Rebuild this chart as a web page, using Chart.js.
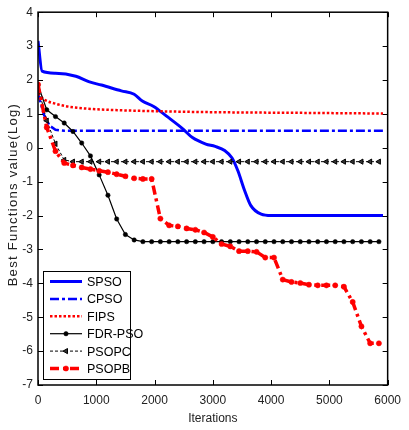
<!DOCTYPE html>
<html><head><meta charset="utf-8">
<script src="https://cdn.jsdelivr.net/npm/chart.js@4.4.0/dist/chart.umd.min.js"></script>
<style>html,body{margin:0;padding:0;background:#fff;}</style>
</head><body>
<canvas id="c" width="409" height="430"></canvas>
<script>
// ---------- data ----------
const seriesNames = ['SPSO', 'CPSO', 'FIPS', 'FDR-PSO', 'PSOPC', 'PSOPB'];
const xTickValues = [0, 1000, 2000, 3000, 4000, 5000, 6000];
const yTickValues = [-7, -6, -5, -4, -3, -2, -1, 0, 1, 2, 3, 4];

const spsoIter = [0, 70, 300, 650, 870, 1090, 1430, 1650, 1790, 1985, 2200, 2490, 2650, 2880, 3040, 3210, 3330, 3430, 3545, 3650, 3830, 4000, 5920];
const spsoVal  = [3.15, 2.26, 2.2, 2.11, 1.95, 1.85, 1.68, 1.58, 1.38, 1.22, 0.94, 0.55, 0.3, 0.11, 0.04, -0.09, -0.3, -0.68, -1.26, -1.7, -1.96, -2.0, -2.0];

const cpsoIter = [0, 100, 200, 300, 450, 5920];
const cpsoVal  = [1.6, 0.98, 0.65, 0.53, 0.5, 0.5];

const fipsIter = [0, 100, 300, 500, 800, 1200, 2000, 3000, 4500, 5920];
const fipsVal  = [1.6, 1.43, 1.3, 1.22, 1.16, 1.12, 1.08, 1.05, 1.03, 1.01];

const markerIter = [0, 150, 300, 450, 600, 750, 900, 1050, 1200, 1350, 1500, 1650, 1800, 1950, 2100, 2250, 2400, 2550, 2700, 2850, 3000, 3150, 3300, 3450, 3600, 3750, 3900, 4050, 4200, 4350, 4500, 4650, 4800, 4950, 5100, 5250, 5400, 5550, 5700, 5850];

const fdrVal = [1.85, 1.12, 0.92, 0.73, 0.48, 0.14, -0.24, -0.8, -1.4, -2.1, -2.56, -2.72, -2.77, -2.77, -2.77, -2.77, -2.77, -2.77, -2.77, -2.77, -2.77, -2.77, -2.77, -2.77, -2.77, -2.77, -2.77, -2.77, -2.77, -2.77, -2.77, -2.77, -2.77, -2.77, -2.77, -2.77, -2.77, -2.77, -2.77, -2.77];

const psopcVal = [1.8, 0.8, 0.12, -0.36, -0.41, -0.41, -0.41, -0.41, -0.41, -0.41, -0.41, -0.41, -0.41, -0.41, -0.41, -0.41, -0.41, -0.41, -0.41, -0.41, -0.41, -0.41, -0.41, -0.41, -0.41, -0.41, -0.41, -0.41, -0.41, -0.41, -0.41, -0.41, -0.41, -0.41, -0.41, -0.41, -0.41, -0.41, -0.41, -0.41];

const psopbVal = [1.87, 0.6, -0.1, -0.45, -0.52, -0.58, -0.63, -0.68, -0.72, -0.78, -0.84, -0.9, -0.92, -0.92, -2.09, -2.29, -2.32, -2.38, -2.42, -2.5, -2.63, -2.84, -2.91, -3.05, -3.05, -3.07, -3.24, -3.24, -3.89, -3.96, -3.99, -4.04, -4.06, -4.06, -4.06, -4.1, -4.55, -5.27, -5.77, -5.77];

function pts(xs, ys) { return xs.map((x, i) => ({ x: x, y: ys[i] })); }

const FONT = "'Liberation Sans', Arial, sans-serif";

const datasets = [
  { label: seriesNames[0], data: pts(spsoIter, spsoVal), borderColor: '#0000ff', borderWidth: 3, pointRadius: 0, cubicInterpolationMode: 'monotone', order: 6 },
  { label: seriesNames[1], data: pts(cpsoIter, cpsoVal), borderColor: '#0000ff', borderWidth: 2.5, borderDash: [9, 3, 3, 3], pointRadius: 0, order: 5 },
  { label: seriesNames[2], data: pts(fipsIter, fipsVal), borderColor: '#ff0000', borderWidth: 2.5, borderDash: [2.5, 2], pointRadius: 0, cubicInterpolationMode: 'monotone', order: 4 },
  { label: seriesNames[3], data: pts(markerIter, fdrVal), borderColor: '#000000', borderWidth: 1.2, pointRadius: 2.2, pointStyle: 'circle', pointBackgroundColor: '#000', pointBorderColor: '#000', pointBorderWidth: 0.5, order: 3 },
  { label: seriesNames[4], data: pts(markerIter, psopcVal), borderColor: '#000000', borderWidth: 1, borderDash: [3, 2], pointRadius: 3, pointStyle: 'triangle', pointRotation: -90, pointBackgroundColor: '#333', pointBorderColor: '#000', pointBorderWidth: 1, order: 2 },
  { label: seriesNames[5], data: pts(markerIter, psopbVal), borderColor: '#ff0000', borderWidth: 3.5, borderDash: [9, 4, 3, 4], pointRadius: 2.6, pointStyle: 'circle', pointBackgroundColor: '#ff0000', pointBorderColor: '#ff0000', pointBorderWidth: 0.5, order: 1 }
];

const framePlugin = {
  id: 'frame',
  afterDraw(chart) {
    const ctx = chart.ctx, a = chart.chartArea, xs = chart.scales.x, ys = chart.scales.y;
    ctx.save();
    ctx.strokeStyle = '#000';
    ctx.lineWidth = 1.5;
    ctx.strokeRect(a.left, a.top, a.right - a.left, a.bottom - a.top);
    ctx.lineWidth = 1;
    ctx.beginPath();
    const tl = 5;
    xTickValues.forEach(v => {
      const px = Math.round(xs.getPixelForValue(v)) + 0.5;
      ctx.moveTo(px, a.bottom); ctx.lineTo(px, a.bottom - tl);
      ctx.moveTo(px, a.top); ctx.lineTo(px, a.top + tl);
    });
    yTickValues.forEach(v => {
      const py = Math.round(ys.getPixelForValue(v)) + 0.5;
      ctx.moveTo(a.left, py); ctx.lineTo(a.left + tl, py);
      ctx.moveTo(a.right, py); ctx.lineTo(a.right - tl, py);
    });
    ctx.stroke();

    // y title with letter spacing
    ctx.save();
    ctx.translate(13.5, (a.top + a.bottom) / 2 - 4);
    ctx.rotate(-Math.PI / 2);
    ctx.font = '13px ' + FONT;
    try { ctx.letterSpacing = '1.3px'; } catch (e) {}
    ctx.fillStyle = '#222';
    ctx.textAlign = 'center';
    ctx.textBaseline = 'middle';
    ctx.fillText('Best Functions value(Log)', 0, 0);
    ctx.restore();

    // legend
    const lx = 43, ly = 271, lw = 87, lh = 108;
    ctx.fillStyle = '#fff';
    ctx.fillRect(lx, ly, lw, lh);
    ctx.lineWidth = 1;
    ctx.strokeStyle = '#000';
    ctx.strokeRect(lx + 0.5, ly + 0.5, lw, lh);
    ctx.font = '12.5px ' + FONT;
    ctx.textBaseline = 'middle';
    ctx.textAlign = 'left';
    chart.data.datasets.forEach((ds, i) => {
      const y = ly + 10.5 + i * 17.4;
      ctx.save();
      ctx.strokeStyle = ds.borderColor;
      ctx.lineWidth = ds.borderWidth;
      ctx.setLineDash(ds.borderDash || []);
      ctx.beginPath();
      ctx.moveTo(lx + 7, y); ctx.lineTo(lx + 39, y);
      ctx.stroke();
      ctx.setLineDash([]);
      if (ds.pointRadius > 0) {
        ctx.fillStyle = ds.pointBackgroundColor;
        ctx.strokeStyle = ds.pointBorderColor;
        ctx.lineWidth = ds.pointBorderWidth;
        Chart.helpers.drawPoint(ctx, { pointStyle: ds.pointStyle, rotation: ds.pointRotation || 0, radius: ds.pointRadius, borderWidth: ds.pointBorderWidth }, lx + 23, y);
      }
      ctx.restore();
      ctx.fillStyle = '#000';
      ctx.fillText(ds.label, lx + 44, y + 1);
    });
    ctx.restore();
  }
};

new Chart(document.getElementById('c'), {
  type: 'line',
  data: { datasets: datasets },
  options: {
    responsive: false,
    animation: false,
    layout: { padding: { top: 11, right: 12, left: 0, bottom: 0 } },
    plugins: { legend: { display: false }, tooltip: { enabled: false } },
    elements: { line: { tension: 0 } },
    scales: {
      x: {
        type: 'linear', min: 0, max: 6000,
        afterFit(s) { s.height = 45; },
        afterBuildTicks(s) { s.ticks = xTickValues.map(v => ({ value: v })); },
        grid: { display: false, drawTicks: false },
        border: { display: false },
        ticks: { color: '#222', padding: 8, maxRotation: 0, font: { family: FONT, size: 12 }, callback: v => String(v) },
        title: { display: true, text: 'Iterations', color: '#222', padding: { top: 0, bottom: 4 }, font: { family: FONT, size: 12 } }
      },
      y: {
        type: 'linear', min: -7, max: 4,
        afterFit(s) { s.width = 38; },
        afterBuildTicks(s) { s.ticks = yTickValues.map(v => ({ value: v })); },
        grid: { display: false, drawTicks: false },
        border: { display: false },
        ticks: { color: '#222', padding: 5, font: { family: FONT, size: 12 }, callback: v => String(v) }
      }
    }
  },
  plugins: [framePlugin]
});
</script>
</body></html>
